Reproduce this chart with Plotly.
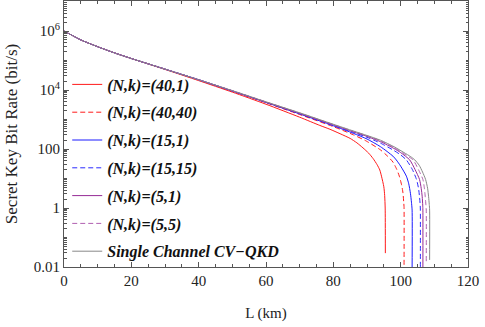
import plotly.graph_objects as go

# Shared early part (km, log10 rate)
L_common = [0, 2, 5, 10, 15, 20, 30, 40]

# Series: distance (km) and log10 secret key rate (bit/s)
L_40_1 = L_common + [50, 60, 70, 76, 79, 82, 85, 87, 88.8, 90.5, 91.8, 93.0, 93.8, 94.3, 95.0, 95.25, 95.4, 95.45]
R_40_1 = [6.0, 5.88, 5.70, 5.47, 5.26, 5.07, 4.70, 4.32, 3.93, 3.52, 3.08, 2.80, 2.67, 2.52, 2.36, 2.21, 2.04, 1.86, 1.68, 1.47, 1.29, 1.08, 0.72, 0.42, 0.0, -1.53]

L_40_40 = L_common + [50, 60, 70, 80, 86, 89.8, 94, 96, 97.7, 98.8, 99.6, 100.3, 100.7, 100.9, 101.0, 101.0]
R_40_40 = [6.0, 5.88, 5.70, 5.47, 5.26, 5.07, 4.71, 4.34, 3.96, 3.57, 3.17, 2.76, 2.48, 2.27, 1.97, 1.77, 1.56, 1.32, 1.08, 0.77, 0.50, 0.20, 0.05, -2.1]

L_15_1 = L_common + [50, 60, 70, 80, 86, 90, 94, 97.7, 98.7, 100, 101.7, 102.4, 102.9, 103.2, 103.4, 103.4]
R_15_1 = [6.0, 5.88, 5.70, 5.47, 5.26, 5.07, 4.71, 4.35, 3.97, 3.58, 3.19, 2.79, 2.53, 2.34, 2.08, 1.76, 1.63, 1.42, 1.08, 0.82, 0.50, 0.20, -0.07, -2.1]

L_15_15 = L_common + [50, 60, 70, 80, 86, 90, 94, 98, 100, 101.7, 103.5, 104.7, 105.3, 105.6, 105.8, 105.85, 105.85]
R_15_15 = [6.0, 5.88, 5.70, 5.47, 5.26, 5.07, 4.71, 4.35, 3.97, 3.59, 3.20, 2.80, 2.56, 2.40, 2.20, 1.95, 1.80, 1.63, 1.30, 0.97, 0.67, 0.38, 0.10, -0.07, -2.1]

L_5_1 = L_common + [50, 60, 70, 80, 86, 90, 94, 98, 100, 102.7, 104.3, 105.6, 106.1, 106.4, 106.55, 106.6, 106.6]
R_5_1 = [6.0, 5.88, 5.70, 5.47, 5.26, 5.07, 4.71, 4.35, 3.97, 3.59, 3.21, 2.82, 2.58, 2.43, 2.25, 2.02, 1.88, 1.63, 1.30, 0.97, 0.67, 0.38, 0.10, -0.07, -2.1]

L_5_5 = L_common + [50, 60, 70, 80, 86, 90, 94, 98, 101, 103.7, 105.3, 106.6, 107.05, 107.3, 107.5, 107.6, 107.6]
R_5_5 = [6.0, 5.88, 5.70, 5.47, 5.26, 5.07, 4.71, 4.35, 3.98, 3.60, 3.22, 2.83, 2.60, 2.45, 2.28, 2.05, 1.84, 1.63, 1.30, 0.97, 0.67, 0.38, 0.10, -0.07, -1.82]

L_single = L_common + [50, 60, 70, 80, 86, 90, 94, 98, 101, 103, 104.2, 105.5, 106.5, 107.4, 108.0, 108.3, 108.5, 108.6, 108.6]
R_single = [6.0, 5.88, 5.70, 5.47, 5.26, 5.07, 4.71, 4.35, 3.98, 3.60, 3.23, 2.84, 2.61, 2.46, 2.30, 2.08, 1.88, 1.74, 1.63, 1.45, 1.22, 0.97, 0.67, 0.38, 0.12, -0.07, -1.76]

names = ["(N,k)=(40,1)", "(N,k)=(40,40)", "(N,k)=(15,1)", "(N,k)=(15,15)",
         "(N,k)=(5,1)", "(N,k)=(5,5)", "Single Channel CV\u2212QKD"]
xs = [L_40_1, L_40_40, L_15_1, L_15_15, L_5_1, L_5_5, L_single]
ys = [R_40_1, R_40_40, R_15_1, R_15_15, R_5_1, R_5_5, R_single]
colors = ["#ff1a1a", "#ff1a1a", "#1a1aff", "#2a2aff", "#962a96", "#b060b0", "#888888"]
dashes = ["solid", "5px,3px", "solid", "5px,3px", "solid", "5px,3px", "solid"]

fig = go.Figure()
for i, (n, x, y, c, d) in enumerate(zip(names, xs, ys, colors, dashes)):
    fig.add_trace(go.Scatter(
        x=x, y=[10 ** v for v in y], mode="lines", name="<b><i>" + n + "</i></b>",
        legendgroup="g%d" % i,
        line=dict(color=c, width=1, dash=d, shape="spline", smoothing=0.6)))

major = [0.01, 1, 100, 1e4, 1e6]
major_text = ["0.01", "1", "100", "10<sup>4</sup>", "10<sup>6</sup>"]
minor_vals = [m * 10 ** e for e in range(-2, 7) for m in range(1, 10) if not (m == 1 and e % 2 == 0)]

serif = "Liberation Serif, Times New Roman, serif"
axis_common = dict(showline=True, linecolor="#555", linewidth=1, mirror="ticks",
                   ticks="inside", tickcolor="#555", showgrid=False, zeroline=False,
                   automargin=False,
                   tickfont=dict(family=serif, size=15, color="#222"))

fig.update_xaxes(range=[0, 120], tickvals=[0, 20, 40, 60, 80, 100, 120], ticklen=5,
                 minor=dict(ticks="inside", ticklen=3, tickcolor="#555", dtick=5, tick0=0),
                 title=dict(text="L (km)", font=dict(family=serif, size=15, color="#222"), standoff=19),
                 **axis_common)
fig.update_yaxes(type="log", range=[-2, 7.02], tickvals=major, ticktext=major_text, ticklen=5,
                 minor=dict(ticks="inside", ticklen=2.5, tickcolor="#555", tickvals=minor_vals),
                 title=dict(text="Secret Key Bit Rate (bit/s)", font=dict(family=serif, size=17, color="#222"), standoff=11),
                 **axis_common)

fig.update_layout(
    width=485, height=327, margin=dict(l=64, r=17, t=1, b=60),
    plot_bgcolor="white", paper_bgcolor="white",
    legend=dict(x=0.008, y=0.75, xanchor="left", yanchor="top", bgcolor="rgba(0,0,0,0)",
                font=dict(family=serif, size=16, color="#111"),
                tracegroupgap=4, itemwidth=30),
    showlegend=True,
)

fig.write_html("out.html", config={"displayModeBar": False},
               post_script="document.body.style.margin='0';document.body.style.overflow='hidden';")
